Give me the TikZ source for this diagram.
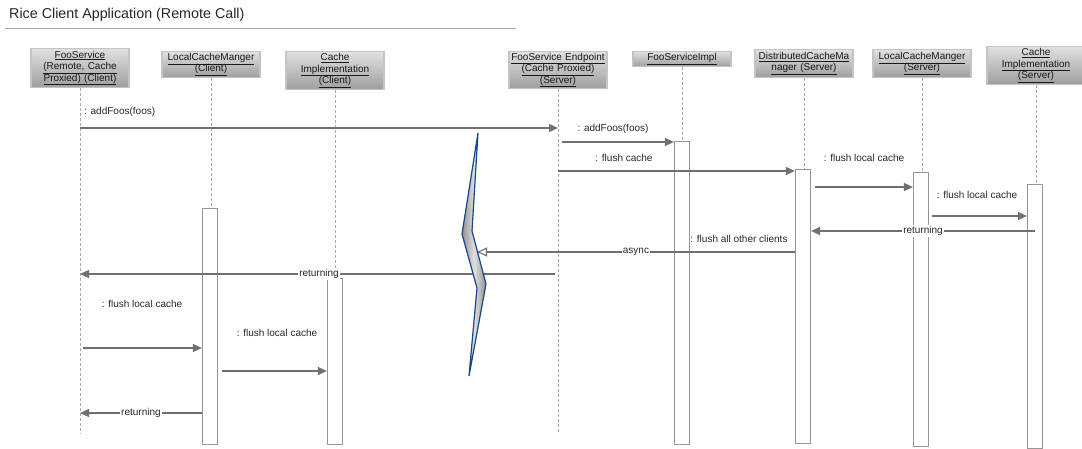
\documentclass[tikz,border=0pt]{standalone}
\usepackage{fontspec}
\setmainfont{Liberation Sans}
\usetikzlibrary{arrows.meta}
\definecolor{msggray}{RGB}{112,112,112}
\definecolor{lifegray}{RGB}{168,168,168}
\definecolor{actgray}{RGB}{150,150,150}
\definecolor{boxtop}{RGB}{224,224,224}
\definecolor{boxbottom}{RGB}{158,158,158}
\definecolor{boxborder}{RGB}{196,196,196}
\definecolor{breakblue}{RGB}{22,70,135}
\tikzset{
  header/.style={draw=boxborder,line width=1.2pt,top color=boxtop,bottom color=boxbottom,
    anchor=north,minimum width=98pt,text width=97pt,align=center,inner xsep=0.5pt,inner ysep=1pt,
    text=black!90,font=\fontsize{10}{11.5}\selectfont},
  lifeline/.style={lifegray,dash pattern=on 3pt off 2pt,line width=0.9pt},
  activation/.style={draw=actgray,fill=white,line width=1.2pt,minimum width=15pt,
    inner sep=0pt,anchor=north},
  msg/.style={msggray,line width=1.4pt,->},
  msglabel/.style={font=\fontsize{10}{12}\selectfont,text=black!85,inner sep=1pt},
  retlabel/.style={msglabel,fill=white}
}

\begin{document}
\begin{tikzpicture}[x=1pt,y=-1pt,>={Triangle[length=9pt,width=8pt]}]
  \useasboundingbox (0,0) rectangle (1082,449);
  % title:
  \node[anchor=west,inner sep=0pt,text=black!85,font=\fontsize{14.3}{17}\selectfont] (title) at (9,15) {Rice Client Application (Remote Call)};
  \draw[lifegray,line width=1pt] (5,29) -- (516,29);

  % headers:
  \node[header,minimum height=39pt] (fsc) at (80,48) {\underline{FooService}\\\underline{(Remote, Cache}\\\underline{Proxied) (Client)}};
  \node[header,minimum height=26pt] (lcmc) at (211,51) {\underline{LocalCacheManger}\\\underline{(Client)}};
  \node[header,minimum height=38pt] (cic) at (335,51) {\underline{Cache}\\\underline{Implementation}\\\underline{(Client)}};
  \node[header,minimum height=37pt] (fse) at (558,51) {\underline{FooService Endpoint}\\\underline{(Cache Proxied)}\\\underline{(Server)}};
  \node[header,minimum height=15pt] (fsi) at (682,51) {\underline{FooServiceImpl}};
  \node[header,minimum height=28pt] (dcm) at (804,49) {\underline{DistributedCacheMa}\\\underline{nager (Server)}};
  \node[header,minimum height=28pt] (lcms) at (922,49) {\underline{LocalCacheManger}\\\underline{(Server)}};
  \node[header,minimum height=38pt] (cis) at (1036,46) {\underline{Cache}\\\underline{Implementation}\\\underline{(Server)}};

  % lifelines:
  \foreach \n in {fsc,fse}
     \draw[lifeline] (\n.south) -- (\n |- 0,434);
  \foreach \n in {lcmc,cic,fsi,dcm,lcms,cis}
     \draw[lifeline] (\n.south) -- (\n |- 0,440);

  % activations:
  \node[activation,minimum height=236pt] (lcmcact) at (210,208) {};
  \node[activation,minimum height=166pt] (cicact) at (335,278) {};
  \node[activation,minimum height=303pt] (fsiact) at (682,141) {};
  \node[activation,minimum height=274pt] (dcmact) at (803,169) {};
  \node[activation,minimum height=274pt] (lcmsact) at (921,172) {};
  \node[activation,minimum height=264pt] (cisact) at (1035,184) {};

  % message rows:
  \coordinate (m1) at (0,128);
  \coordinate (m2) at (0,142);
  \coordinate (m3) at (0,171);
  \coordinate (m4) at (0,187);
  \coordinate (m5) at (0,216);
  \coordinate (m6) at (0,231);
  \coordinate (m7) at (0,252);
  \coordinate (m8) at (0,274);
  \coordinate (m9) at (0,348);
  \coordinate (m10) at (0,371);
  \coordinate (m11) at (0,413);
  \coordinate (brk) at (477,252);

  \begin{scope}[msglabel]
      \node[anchor=west] (l1) at (83,112) {: addFoos(foos)};
      \node (l2) at (613,129) {: addFoos(foos)};
      \node (l3) at (624,158) {: flush cache};
      \node (l4) at (864,158) {: flush local cache};
      \node (l5) at (977,195) {: flush local cache};
      \node (l7) at (739,239) {: flush all other clients};
      \node (l9) at (142,304) {: flush local cache};
      \node (l10) at (277,333) {: flush local cache};
  \end{scope}

  % calls:
  \draw[msg] (fsc |- m1) -- (fse |- m1);
  \draw[msg,shorten <=4pt] (fse |- m2) -- (fsiact.west |- m2);
  \draw[msg] (fse |- m3) -- (dcmact.west |- m3);
  \draw[msg,shorten <=4pt] (dcmact.east |- m4) -- (lcmsact.west |- m4);
  \draw[msg,shorten <=3pt] (lcmsact.east |- m5) -- (cisact.west |- m5);
  \draw[msg,shorten <=3pt] (fsc |- m9) -- (lcmcact.west |- m9);
  \draw[msg,shorten <=4pt] (lcmcact.east |- m10) -- (cicact.west |- m10);

  % returns:
  \draw[msg] (cisact |- m6) -- node[retlabel] (r6) {returning} (dcmact.east |- m6);
  \draw[msggray,line width=1.1pt,-{Triangle[open,length=10pt,width=9pt]}] (dcmact.west |- m7) -- node[retlabel] (r7) {async} (brk);
  \draw[msg,shorten <=3pt] (fse |- m8) -- node[retlabel] (r8) {returning} (fsc |- m8);
  \draw[msg] (lcmcact.west |- m11) -- node[retlabel] (r11) {returning} (fsc |- m11);

  % break:
  \draw[breakblue,line width=1.2pt,left color=gray!85,right color=gray!85,middle color=gray!25]
     (478,133) -- (462,234) -- (477,288) -- (469,376) -- (486,284) -- (472,231) -- cycle;
\end{tikzpicture}
\end{document}
